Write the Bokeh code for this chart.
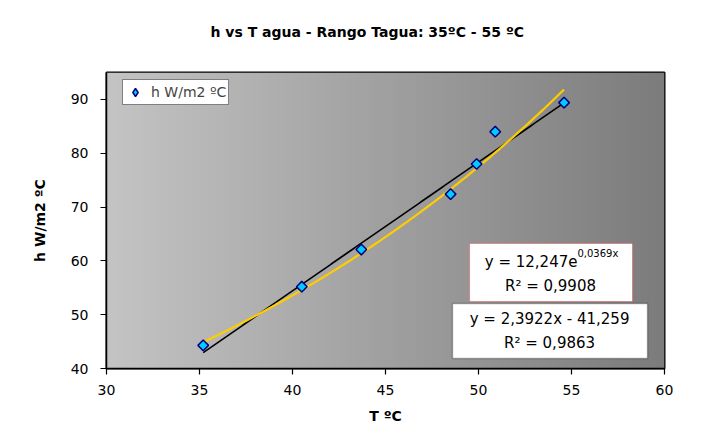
import numpy as np
from bokeh.plotting import figure
from bokeh.models import (ColumnDataSource, Legend, LegendItem, BoxAnnotation,
                          Label, Range1d, FixedTicker, LinearAxis)
from bokeh.embed import file_html
from bokeh.resources import INLINE

# ---------------- data ----------------
temp_c = [35.2, 40.5, 43.7, 48.5, 49.9, 50.9, 54.6]
h_w_m2c = [44.3, 55.2, 62.1, 72.4, 78.0, 84.0, 89.4]

lin_coef = [2.3922, -41.259]      # y = a x + b
exp_coef = [12.247, 0.0369]       # y = A e^(k x)

x_ticks = [30, 35, 40, 45, 50, 55, 60]
y_ticks = [40, 50, 60, 70, 80, 90]

title_text = "h  vs T agua - Rango Tagua: 35ºC - 55 ºC"
legend_text = "h W/m2 ºC"
x_label = "T ºC"
y_label = "h W/m2 ºC"
exp_eq_text = "y = 12,247e"
exp_eq_sup = "0,0369x"
exp_r2_text = "R² = 0,9908"
lin_eq_text = "y = 2,3922x - 41,259"
lin_r2_text = "R² = 0,9863"

# ---------------- layout ----------------
FONT = "DejaVu Sans"
W, H = 711, 439
FL, FR, FT, FB = 106, 664, 72, 368   # frame edges in canvas px
x_lo, x_hi = 30, 60
y_lo, y_hi = 40, 95

p = figure(width=W, height=H, output_backend="svg", toolbar_location=None,
           x_range=Range1d(x_lo, x_hi), y_range=Range1d(y_lo, y_hi),
           min_border_left=FL, min_border_right=W - FR,
           min_border_top=FT, min_border_bottom=H - FB)

p.border_fill_color = "white"
p.outline_line_color = "black"
p.outline_line_width = 2
p.grid.visible = False

# gradient background
n = 256
grad = np.linspace(196, 124, n).astype(np.uint8)
img = np.zeros((1, n), dtype=np.uint32)
view = img.view(dtype=np.uint8).reshape((1, n, 4))
view[0, :, 0] = grad
view[0, :, 1] = grad
view[0, :, 2] = grad
view[0, :, 3] = 255
p.image_rgba(image=[img], x=x_lo, y=y_lo, dw=x_hi - x_lo, dh=y_hi - y_lo)

# trend lines
xf = np.linspace(min(temp_c), max(temp_c), 200)
p.line(xf, lin_coef[0] * xf + lin_coef[1], line_color="black", line_width=1.6)
p.line(xf, exp_coef[0] * np.exp(exp_coef[1] * xf), line_color="#FFCC00", line_width=2.2)

src = ColumnDataSource(dict(x=temp_c, y=h_w_m2c))
# legend glyph (diamond) sits fully underneath the visible rotated squares
r_leg = p.scatter("x", "y", source=src, marker="diamond", size=8,
                  fill_color="#00CCFF", line_color="#000080", line_width=1.5)
r = p.scatter("x", "y", source=src, marker="square", size=7.5, angle=np.pi / 4,
              fill_color="#00CCFF", line_color="#000080", line_width=1.5)

# axes
for ax in (p.xaxis[0], p.yaxis[0]):
    ax.major_label_text_font = FONT
    ax.major_label_text_font_size = "14px"
    ax.major_label_text_color = "black"
    ax.major_tick_out = 6
    ax.major_tick_in = 0
    ax.minor_tick_out = 0
    ax.minor_tick_in = 0
    ax.axis_line_color = "black"
    ax.axis_line_width = 1.5
    ax.major_tick_line_color = "black"
    ax.major_tick_line_width = 1.2
    ax.axis_label_text_font = FONT
    ax.axis_label_text_font_size = "14px"
    ax.axis_label_text_font_style = "bold"
    ax.axis_label_text_color = "black"
p.xaxis.major_label_standoff = 10
p.yaxis.major_label_standoff = 12
p.xaxis.ticker = FixedTicker(ticks=x_ticks)
p.yaxis.ticker = FixedTicker(ticks=y_ticks)
p.xaxis.axis_label = x_label
p.yaxis.axis_label = y_label
p.xaxis.axis_label_standoff = 10
p.yaxis.axis_label_standoff = 20

# invisible spacer axis between frame and title
spacer = LinearAxis(ticker=FixedTicker(ticks=[]), axis_line_alpha=0,
                    major_tick_out=0, major_tick_in=0, minor_tick_out=0,
                    minor_tick_in=0, major_label_standoff=0,
                    axis_label=" ", axis_label_text_font_size="2px",
                    axis_label_standoff=28)
p.add_layout(spacer, "above")

# chart title
p.title.text = title_text
p.title.align = "left"
p.title.offset = 104
p.title.standoff = 0
p.title.text_font = FONT
p.title.text_font_size = "14px"
p.title.text_font_style = "bold"
p.title.text_color = "black"

# legend
legend = Legend(items=[LegendItem(label=legend_text, renderers=[r_leg])],
                location=(16, 296 - 7 - 26))
legend.background_fill_color = "white"
legend.background_fill_alpha = 1
legend.border_line_color = "black"
legend.border_line_width = 1
legend.label_text_font = FONT
legend.label_text_font_size = "14px"
legend.glyph_width = 20
legend.glyph_height = 20
legend.label_height = 20
legend.padding = 2
legend.label_standoff = 6
legend.margin = 0
legend.spacing = 0
p.add_layout(legend)

# equation boxes
p.add_layout(BoxAnnotation(left=49.52, right=58.28, bottom=52.45, top=63.23,
                           fill_color="white", fill_alpha=1,
                           line_color="#FF0000", line_width=1))
p.add_layout(BoxAnnotation(left=48.60, right=59.09, bottom=41.86, top=52.08,
                           fill_color="white", fill_alpha=1,
                           line_color="black", line_width=1.5))

def lab(x, y, text, size="15px", align="center"):
    p.add_layout(Label(x=x, y=y, text=text, text_font=FONT, text_font_size=size,
                       text_align=align, text_baseline="middle", text_color="black"))

lab(55.32, 59.88, exp_eq_text, align="right")
lab(55.32, 61.37, exp_eq_sup, size="10px", align="left")
lab(53.87, 55.24, exp_r2_text)
lab(53.82, 49.29, lin_eq_text)
lab(53.82, 44.65, lin_r2_text)

open("out.html", "w").write(file_html(p, INLINE))
